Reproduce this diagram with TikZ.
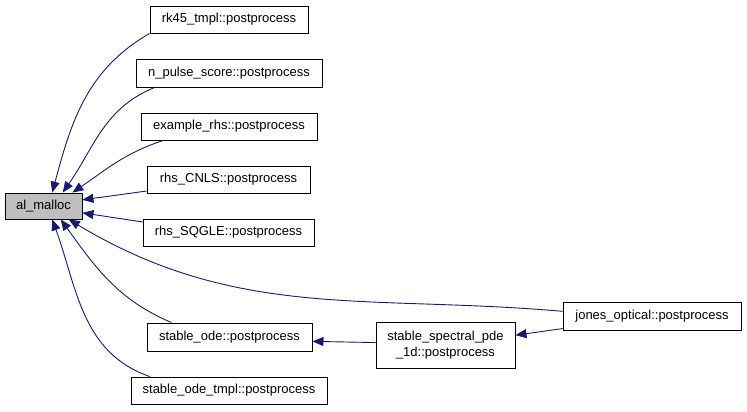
\documentclass[tikz,border=0pt]{standalone}
\usepackage{fontspec}
\setmainfont{Liberation Sans}
\usetikzlibrary{arrows.meta, positioning}
\definecolor{edgeblue}{HTML}{191970}
\definecolor{nodegray}{HTML}{BFBFBF}

\begin{document}
\begin{tikzpicture}[x=1bp, y=1bp,
    fn/.style={draw=black, line width=0.9bp, inner sep=0pt, minimum height=27bp,
      font=\fontsize{13bp}{16bp}\selectfont, align=center},
    call/.style={draw=edgeblue, line width=0.9bp, -{Triangle[length=11bp, width=9bp]}}]
    \useasboundingbox (0,0) rectangle (747,-411);

    % 被调用的函数
    \node[fn, fill=nodegray, minimum width=77bp, minimum height=26bp] (al) at (43.5,-206) {al\_malloc};

    % 调用者
    \node[fn, minimum width=158bp] (rk) at (229,-19.5) {rk45\_tmpl::postprocess};
    \node[fn, minimum width=186bp, minimum height=28bp] (np) at (229,-73) {n\_pulse\_score::postprocess};
    \node[fn, minimum width=176bp] (ex) at (229,-126.5) {example\_rhs::postprocess};
    \node[fn, minimum width=163bp] (cnls) at (228.5,-179.5) {rhs\_CNLS::postprocess};
    \node[fn, minimum width=171bp] (sq) at (228.5,-232.5) {rhs\_SQGLE::postprocess};
    \node[fn, minimum width=165bp, minimum height=28bp] (so) at (229.5,-337) {stable\_ode::postprocess};
    \node[fn, minimum width=196bp] (sot) at (229,-390.5) {stable\_ode\_tmpl::postprocess};
    \node[fn, minimum width=139bp, minimum height=46bp] (ssp) at (445.5,-345) {stable\_spectral\_pde\\\_1d::postprocess};
    \node[fn, minimum width=178bp, minimum height=28bp] (jo) at (652,-316) {jones\_optical::postprocess};

    % 上方的调用
    \draw[call] (rk.south west) to[out=210, in=75] (al.57);
    \draw[call] (np.191) to[out=202, in=55] (al.35);
    \draw[call] (ex.192) to[out=198, in=34] (al.25);
    \draw[call] (cnls.188) -- (al.9);
    \draw[call] (sq.173) -- (al.-10);

    % 下方的调用
    \draw[call] (jo.177) to[out=175, in=-31] (al.-28);
    \draw[call] (so.166) to[out=157, in=-54] (al.-38);
    \draw[call] (sot.170) to[out=161, in=-70] (al.-57);

    % 间接调用
    \draw[call] (ssp.178.5) -- (so.-3);
    \draw[call] (jo.188) -- (ssp.8);
\end{tikzpicture}
\end{document}
